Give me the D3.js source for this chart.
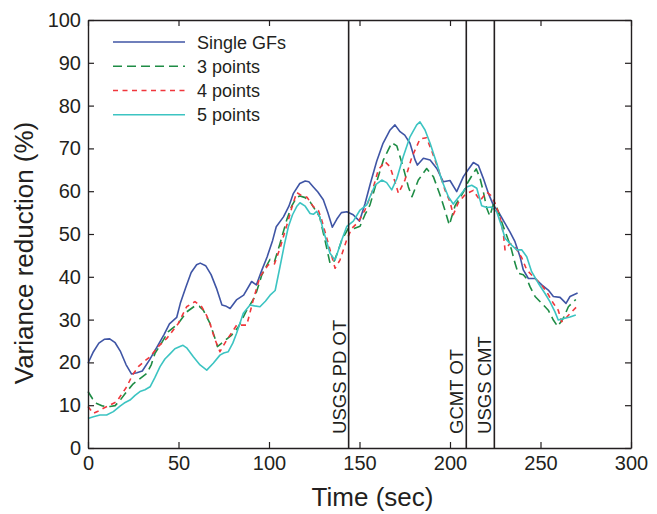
<!DOCTYPE html>
<html>
<head>
<meta charset="utf-8">
<script src="https://cdn.jsdelivr.net/npm/d3@7/dist/d3.min.js"></script>
<style>
  html, body { margin: 0; padding: 0; background: #fff; }
  svg { display: block; font-family: "Liberation Sans", Arial, Helvetica, sans-serif; }
</style>
</head>
<body>
<svg id="chart" width="657" height="514"></svg>
<script>
// ---- data ----
const xTicks = [0, 50, 100, 150, 200, 250, 300];
const yTicks = [0, 10, 20, 30, 40, 50, 60, 70, 80, 90, 100];

const singleT = [0,3,6,9,12,15,18,21,24,27,30,34,38,42,45,49,51,54,57,60,62,65,68,71,74,76,78.5,82,86,90.4,93,96,99,102,104,108,111,113.5,117,120,122,124.5,127,130,132.5,135,137.5,140,143,146.5,150,153,156,159.5,163,166.9,169.6,172.4,175,177.9,180.7,182,185.3,189,192.7,196.3,200,203.7,207.4,210,212.9,215.7,218.4,221.2,223.9,226.7,230.4,233.1,235.9,238.7,240.5,243.3,247,250.7,254.3,257.1,260.8,264.1,266.3,270.5];
const singleV = [19.8,22.5,24.5,25.4,25.5,24.6,22.5,19.5,17.3,17.6,18,20.6,23.5,26.5,29,30.5,33.8,37.5,41,42.8,43.2,42.6,40.5,37.3,33.4,33.2,32.6,34.6,35.7,38.9,38.1,41.5,44.7,48.5,51.7,54,56.5,59.5,61.8,62.4,62.2,61,59.8,58,55,51.6,53.5,55,55.2,54.5,53,57,61.8,67,71.2,74.3,75.5,73.9,73.1,71.2,67.3,66.1,67.7,67.3,65.3,62.2,62.5,59.9,63.4,65,66.7,66,63,59.5,56.8,55.2,52.5,50.5,48.2,44.7,41.6,39.6,39.6,38.1,36.9,35.4,35.2,33.8,35.4,36.2];

const p3T = [0,2.5,4.8,8,12.2,15,18,21.4,25,27.8,32.4,35,37,41,44.4,49.9,54.5,59.1,61.5,63.7,67.4,70,71.5,74.8,79.4,83.1,87.7,92.3,96,100.6,103,106.1,109.8,112.5,115.3,117.1,120,122.7,125,128,130.9,133.7,135.5,138,140.2,143.8,147,150.3,153,155.8,159.5,163.2,165.5,167.8,170.6,174.2,177,179,182.5,187.1,190.8,194.5,197.2,199.6,202.8,207.4,209.5,212.9,214.5,216.6,218.4,220.3,222,224,226,229.5,232.2,234,235.9,237.7,240.5,242.5,244.2,247,250.7,254.3,257.1,259.5,262.6,265.4,269.5];
const p3V = [13.2,11.5,10.4,9.8,9.7,9.9,11.3,13.2,15,15.9,17.4,19.5,22.1,24.8,27.2,29.1,31.8,33.2,33.1,32.2,29.1,25.8,23.7,24.8,26.4,28.3,32.2,35.4,40.4,44.1,43.5,47.8,53.3,56.5,58.6,58.9,58.5,57.5,56,54,48.6,43.2,43.2,45.8,48.6,51.3,51.3,51.8,54.5,56.8,62.2,67.3,69.3,71.3,70.6,65.5,61,58.7,62.6,65.3,63.4,59.1,55.6,52.1,56.6,59.8,61.8,64.2,65.2,63,59.9,56,54.2,57,56,51.7,48.6,46.3,43.2,40.8,40.5,39.5,37.7,35.4,33.8,32.2,29.9,28.4,30.3,33,34.7];

const p4T = [0,2.9,5.5,8.5,12,15.8,18.5,21.4,24.5,27.8,31,34.3,38.8,43.5,46.5,49.9,54.5,59.1,62.8,65.5,67.4,70,72.9,76.6,79.5,82.1,87.7,91.3,95,99.6,103,106.1,110.7,112.5,115.3,118,121,124.5,127.3,129.1,132.6,136.5,139.2,142.9,145.7,149.3,153,156.7,160.4,164.1,166.9,169.6,171.5,175.1,178.8,183.4,187,189.9,193.5,197.2,200,201.8,204.6,208.3,212.9,216.6,220.3,222.5,224.9,227.6,229.5,230.4,233.1,235.9,239.6,242.4,246.1,249.7,253.4,257.1,259.8,261.7,264.5,267.2,270];
const p4V = [9.7,8.1,8.6,9.3,10,10.8,12.5,14.3,17,19,20.2,21.3,23.7,25.6,27.2,29.1,33,34.2,33,31,29.1,25.5,22.5,25.2,27,28.7,28.7,34.6,40,42.8,43,46.7,53.3,56,59.7,59,58.6,56.4,55.5,53.3,48,42,43.9,48.6,51.3,52.8,55.6,59.5,65,66.9,65.7,62.2,59.5,62.6,67.8,72.2,72.5,69.4,65.2,60.3,57.5,54.5,57.3,59.2,60.2,57.8,59.8,59,57.2,54,50,46.3,47.8,47,44.5,41.6,40,38.5,36.5,33.8,32.2,29.5,30.6,31.8,33];

const p5T = [0,3,6.6,10.3,14,17.7,20,23.2,26,28.7,31.5,34.3,37,39.8,42.5,45.3,48,50.8,52.5,54.5,58.2,61.9,65.6,69.2,72.9,75,77.5,80,82.1,85.8,89.5,92,95,98,100.6,103.4,106.1,108.5,110.7,113,115.3,117.1,120,122.7,124.5,126.4,128,130,133.7,136.5,140.2,143,146.6,150.3,154,155.8,158.6,162.3,165,167.8,170.6,174.2,177.9,181.6,183.4,186.2,189,192.7,195.4,199.1,201.8,205.5,209.2,212,214.8,217.5,220.3,223,225.8,228.6,230.4,234,236.9,239.6,242.4,245.1,248.8,252.5,255.2,258,259.8,263.5,266.3,269.5];
const p5V = [6.9,7.3,7.7,7.7,8.5,9.8,10.5,11.2,12.3,13.2,13.6,14.3,16.5,19,20.8,22,23.2,23.7,24,23.4,21.3,19.4,18.2,19.8,21.7,22.2,22.5,24.5,26.8,31.5,33.4,33.2,33,34.3,35.7,36.8,42.4,47.5,51.7,54.5,56.4,57.3,56.5,54.8,54.6,55.3,54,50.9,45.5,43.9,48.6,51.8,53,55.6,56.8,58.7,61.4,62.6,62,60.3,62.9,68.1,72.7,75.5,76.2,74.3,71.2,66.5,62.6,58.7,57,59,61,61.4,60.7,56.6,56.2,56.3,55.2,51.7,49,47.4,46.3,46.3,44.7,41.2,38.5,36.1,34.2,31.8,29.9,30.3,30.6,31.1];

const eventTimes = [144, 209, 224.5];
const eventLabels = ["USGS PD OT", "GCMT OT", "USGS CMT"];

const seriesNames = ["Single GFs", "3 points", "4 points", "5 points"];
const seriesT = [singleT, p3T, p4T, p5T];
const seriesV = [singleV, p3V, p4V, p5V];

// ---- styles ----
const colors = ["#3f55a5", "#1e8c45", "#f0373c", "#3cc4c2"];
const dashes = [null, "9,5", "5,4.5", null];
const ink = "#231f20";

const svg = d3.select("#chart");
const L = 88, R = 631, T = 20, B = 448;

const x = d3.scaleLinear().domain([0, 300]).range([L, R]);
const y = d3.scaleLinear().domain([0, 100]).range([B, T]);

// lines
const line = d3.line().x(d => x(d[0])).y(d => y(d[1]));
seriesNames.forEach((name, i) => {
  const pts = seriesT[i].map((t, j) => [t, seriesV[i][j]]);
  svg.append("path")
    .datum(pts)
    .attr("d", line)
    .attr("fill", "none")
    .attr("stroke", colors[i])
    .attr("stroke-width", 1.6)
    .attr("stroke-linejoin", "round")
    .attr("stroke-dasharray", dashes[i]);
});

// event lines + labels
eventTimes.forEach((t, i) => {
  svg.append("line")
    .attr("x1", x(t)).attr("x2", x(t))
    .attr("y1", y(0)).attr("y2", y(100))
    .attr("stroke", ink).attr("stroke-width", 1.6);
  svg.append("text")
    .attr("transform", `translate(${x(t) - 3},${y(3.3)}) rotate(-90)`)
    .attr("text-anchor", "start")
    .attr("font-size", 18.5)
    .attr("fill", ink)
    .text(eventLabels[i]);
});

// axes
function styleAxis(g) {
  g.selectAll("path").attr("stroke", ink).attr("stroke-width", 1.4);
  g.selectAll("line").attr("stroke", ink).attr("stroke-width", 1.2);
  g.selectAll("text").attr("fill", ink).attr("font-size", 20)
    .attr("font-family", "'Liberation Sans', Arial, Helvetica, sans-serif");
}
svg.append("g").attr("transform", `translate(0,${B})`)
  .call(d3.axisBottom(x).tickValues(xTicks).tickFormat(d3.format("d")).tickSizeInner(-6).tickSizeOuter(0).tickPadding(8))
  .call(styleAxis);
svg.append("g").attr("transform", `translate(0,${T})`)
  .call(d3.axisTop(x).tickValues(xTicks).tickFormat("").tickSizeInner(-6).tickSizeOuter(0))
  .call(styleAxis);
svg.append("g").attr("transform", `translate(${L},0)`)
  .call(d3.axisLeft(y).tickValues(yTicks).tickFormat(d3.format("d")).tickSizeInner(-6).tickSizeOuter(0).tickPadding(7))
  .call(styleAxis);
svg.append("g").attr("transform", `translate(${R},0)`)
  .call(d3.axisRight(y).tickValues(yTicks).tickFormat("").tickSizeInner(-6).tickSizeOuter(0))
  .call(styleAxis);

// axis titles
svg.append("text")
  .attr("x", 372.5).attr("y", 506)
  .attr("text-anchor", "middle")
  .attr("font-size", 26)
  .attr("fill", ink)
  .text("Time (sec)");
svg.append("text")
  .attr("transform", "translate(33,253) rotate(-90)")
  .attr("text-anchor", "middle")
  .attr("font-size", 26)
  .attr("fill", ink)
  .text("Variance reduction (%)");

// legend
const legendY = [42, 66.3, 90.5, 114.7];
seriesNames.forEach((name, i) => {
  svg.append("line")
    .attr("x1", 113).attr("x2", 185)
    .attr("y1", legendY[i]).attr("y2", legendY[i])
    .attr("stroke", colors[i])
    .attr("stroke-width", 1.6)
    .attr("stroke-dasharray", dashes[i]);
  svg.append("text")
    .attr("x", 197).attr("y", legendY[i] + 6.5)
    .attr("font-size", 18)
    .attr("fill", ink)
    .text(name);
});
</script>
</body>
</html>
